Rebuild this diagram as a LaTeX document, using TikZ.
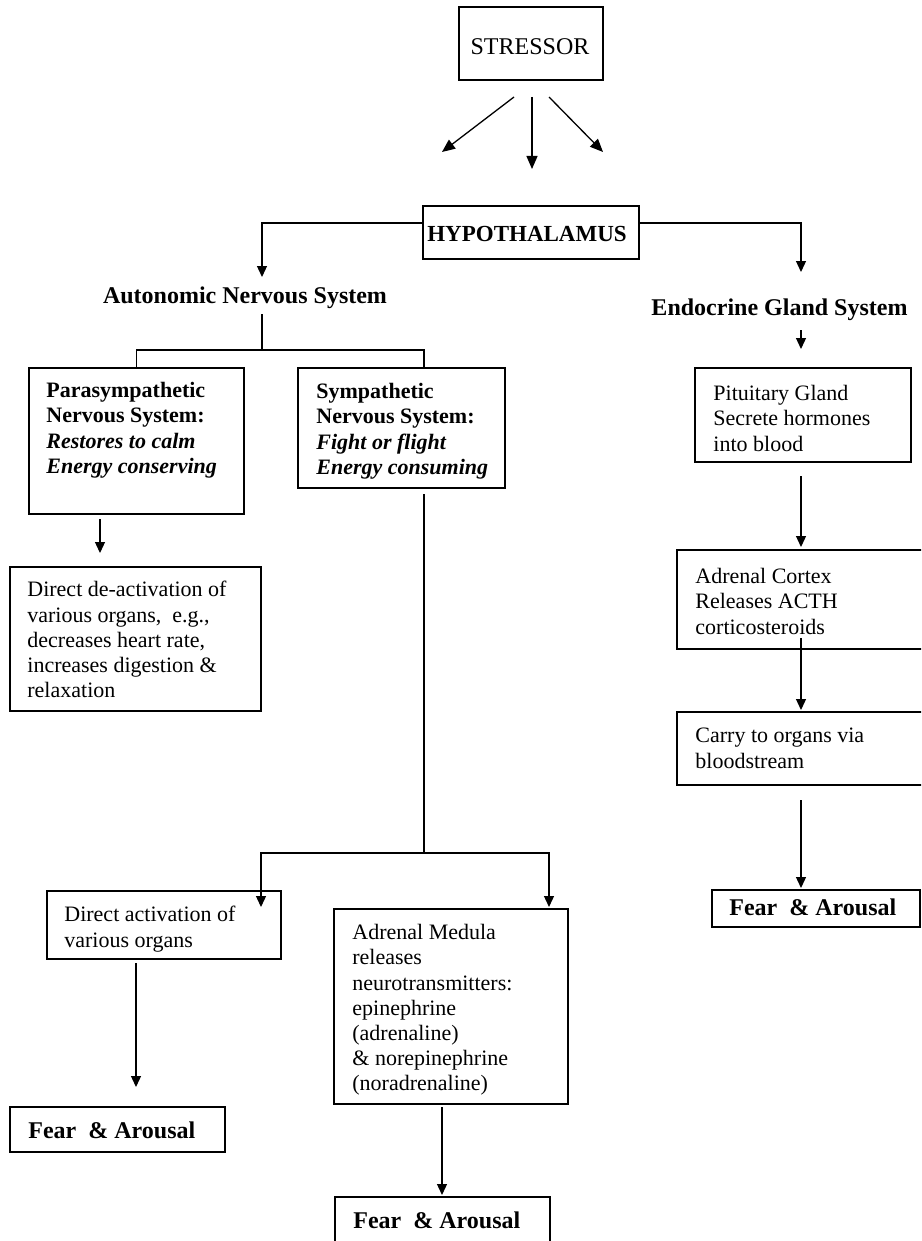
\documentclass[tikz,border=0pt]{standalone}
\usepackage{fontspec}
\setmainfont{Liberation Serif}
\usetikzlibrary{arrows.meta,fit}
\begin{document}
\begin{tikzpicture}[x=0.5pt,y=-0.5pt,
  box/.style={draw, line width=1pt, inner sep=0pt},
  body/.style={inner sep=0pt, anchor=north west, align=left, font=\fontsize{11}{12.6}\selectfont},
  head/.style={inner sep=0pt, anchor=base, font=\fontsize{12}{14}\selectfont\bfseries},
  fearlbl/.style={inner sep=0pt, anchor=base west, font=\fontsize{12}{14}\selectfont\bfseries},
  conn/.style={line width=0.65pt},
  arr/.style={conn, -{Triangle[length=5.5pt,width=5pt]}},
  bigarr/.style={conn, -{Triangle[length=6.5pt,width=5.5pt]}}]
\useasboundingbox (0,0) rectangle (921,1241);
\fill[white] (0,0) rectangle (921,1241);
\clip (0,0) rectangle (921,1241);

% ---- boxes ----
\node[box, fit={(459,7) (603,80)}] (stressor) {};
\node[box, fit={(423,206) (639,259)}] (hypo) {};
\node[box, fit={(29,368) (244,514)}] (para) {};
\node[box, fit={(298,368) (505,488)}] (symp) {};
\node[box, fit={(10,567) (261,711)}] (deact) {};
\node[box, fit={(47,891) (281,959)}] (dact) {};
\node[box, fit={(10,1107) (225,1152)}] (fearA) {};
\node[box, fit={(334,909) (568,1104)}] (medulla) {};
\node[box, fit={(335,1197) (550,1270)}] (fearB) {};
\node[box, fit={(695,368) (911,462)}] (pit) {};
\node[box, fit={(677,550) (940,649)}] (cortex) {};
\node[box, fit={(677,712) (940,785)}] (carry) {};
\node[box, fit={(712,890) (919.5,927)}] (fearC) {};

% ---- texts ----
\node[inner sep=0pt, anchor=base, font=\fontsize{12}{14}\selectfont] (stressor-t) at (530,55) {STRESSOR};
\node[inner sep=0pt, anchor=base, font=\fontsize{11.5}{14}\selectfont\bfseries] (hypo-t) at (527,242) {HYPOTHALAMUS};
\node[head] (ans) at (245,303) {Autonomic Nervous System};
\node[head] (egs) at (779.5,315) {Endocrine Gland System};
\node[body, font=\fontsize{11}{12.6}\selectfont\bfseries] (para-t) at (46,382)
  {Parasympathetic\\Nervous System:\\\textit{Restores to calm}\\\textit{Energy conserving}};
\node[body, font=\fontsize{11}{12.6}\selectfont\bfseries] (symp-t) at (316,383)
  {Sympathetic\\Nervous System:\\\textit{Fight or flight}\\\textit{Energy consuming}};
\node[body] (deact-t) at (27,581)
  {Direct de-activation of\\various organs,\ \ e.g.,\\decreases heart rate,\\increases digestion \&\\relaxation};
\node[body] (dact-t) at (64,906) {Direct activation of\\various organs};
\node[body] (medulla-t) at (352,924)
  {Adrenal Medula\\releases\\neurotransmitters:\\epinephrine\\(adrenaline)\\\& norepinephrine\\(noradrenaline)};
\node[body] (pit-t) at (713,385) {Pituitary Gland\\Secrete hormones\\into blood};
\node[body] (cortex-t) at (695,568) {Adrenal Cortex\\Releases ACTH\\corticosteroids};
\node[body] (carry-t) at (695,728) {Carry to organs via\\bloodstream};
\node[fearlbl] (fearA-t) at (28,1138) {Fear\ \ \& Arousal};
\node[fearlbl] (fearB-t) at (353,1228) {Fear\ \ \& Arousal};
\node[fearlbl] (fearC-t) at (729,915) {Fear\ \ \& Arousal};

% ---- free ends of connectors ----
\coordinate (s1a) at (514,97);  \coordinate (s1b) at (442,152);
\coordinate (s2a) at (532,97);  \coordinate (s2b) at (532,169);
\coordinate (s3a) at (549,97);  \coordinate (s3b) at (603,152);
\coordinate (ans-in) at (262,277);
\coordinate (egs-in) at (801,272);
\coordinate (ans-out) at (262,314);
\coordinate (ansj) at (262,350);
\coordinate (symp-in) at (424,368);
\coordinate (pd) at (100,553);
\coordinate (sj) at (424,853);
\coordinate (dact-in) at (261,907);
\coordinate (med-in) at (549,907);
\coordinate (fa-in) at (136,1087);
\coordinate (fb-in) at (442,1195);
\coordinate (egs-out) at (801,330);
\coordinate (pit-in) at (801,349);
\coordinate (cortex-in) at (801,547);
\coordinate (cortex-out) at (801,638);
\coordinate (carry-in) at (801,710);
\coordinate (fc-in) at (801,888);

% ---- connectors ----
\draw[bigarr] (s1a) -- (s1b);
\draw[bigarr] (s2a) -- (s2b);
\draw[bigarr] (s3a) -- (s3b);

\draw[arr] (hypo.west |- 0,223) -| (ans-in);
\draw[arr] (hypo.east |- 0,223) -| (egs-in);

\draw[conn] (ans-out) -- (ansj);
\draw[conn] (ansj) -| (para.north);
\draw[conn] (ansj) -| (symp-in);

\draw[arr] ([yshift=-2pt]para.south -| pd) -- (pd);

\draw[conn] ([yshift=-2.5pt]symp.south -| sj) -- (sj);
\draw[arr] (sj) -| (dact-in);
\draw[arr] (sj) -| (med-in);

\draw[arr] ([yshift=-1.5pt]dact.south -| fa-in) -- (fa-in);
\draw[arr] ([yshift=-1pt]medulla.south -| fb-in) -- (fb-in);

\draw[arr] (egs-out) -- (pit-in);
\draw[arr] ([yshift=-6.5pt]pit.south -| cortex-in) -- (cortex-in);
\draw[arr] (cortex-out) -- (carry-in);
\draw[arr] ([yshift=-7pt]carry.south -| fc-in) -- (fc-in);
\end{tikzpicture}
\end{document}
